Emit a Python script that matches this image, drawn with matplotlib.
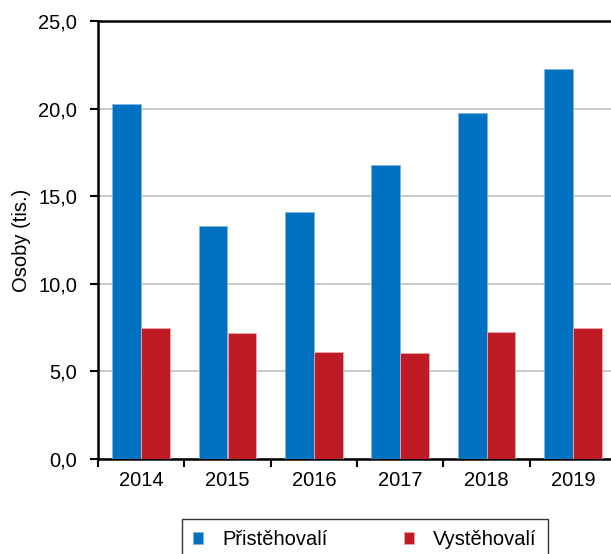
import numpy as np
import matplotlib
matplotlib.use("Agg")
import matplotlib.pyplot as plt
from matplotlib.ticker import FixedLocator

plt.rcParams['font.family'] = ['Liberation Sans', 'DejaVu Sans']

years = ['2014', '2015', '2016', '2017', '2018', '2019']
immigrants = [20.25, 13.3, 14.1, 16.8, 19.75, 22.28]
emigrants = [7.5, 7.2, 6.12, 6.06, 7.26, 7.47]
series_names = ['Přistěhovalí', 'Vystěhovalí']

blue = '#0070C0'
red = '#BE1B24'

fig = plt.figure(figsize=(6.11, 5.54), dpi=100)
# axes run a little past the right edge of the image, as in the original
ax = fig.add_axes([98 / 611, 1 - 459 / 554, 518 / 611, 438 / 554])

x = np.arange(len(years))
w = 0.333
ax.bar(x - w / 2, immigrants, w, color=blue, edgecolor='#7FB5E0', linewidth=0.6,
       label=series_names[0], zorder=3)
ax.bar(x + w / 2, emigrants, w, color=red, edgecolor='#EBA9AD', linewidth=0.6,
       label=series_names[1], zorder=3)

ax.set_xlim(-0.5, len(years) - 0.5)
ax.set_ylim(0, 25)
ticks = np.arange(0, 26, 5)
ax.set_yticks(ticks)
ax.set_yticklabels([f'{v:.1f}'.replace('.', ',') for v in ticks])
ax.set_xticks(x)
ax.set_xticklabels(years)
ax.xaxis.set_minor_locator(FixedLocator(np.arange(-0.5, len(years), 1)))
ax.tick_params(axis='x', which='major', length=0, labelsize=14.5, pad=9)
ax.tick_params(axis='x', which='minor', length=6, width=1.5, direction='out')
ax.tick_params(axis='y', length=6, width=1.5, labelsize=14.5, pad=9)

ax.yaxis.grid(True, color='#C0C0C0', linewidth=1.2, zorder=0)
ax.set_axisbelow(True)

for side in ['left', 'bottom', 'top']:
    ax.spines[side].set_linewidth(1.8)
    ax.spines[side].set_color('black')
ax.spines['right'].set_visible(False)

ax.set_ylabel('Osoby (tis.)', fontsize=14.5, labelpad=5)

leg = fig.legend(loc='upper center', bbox_to_anchor=(365 / 611, 1 - 519 / 554),
                 ncol=2, fontsize=14.5, frameon=True, fancybox=False,
                 edgecolor='black', handlelength=0.5, handleheight=0.5,
                 columnspacing=3.8, borderpad=0.55, handletextpad=0.95,
                 borderaxespad=0)
leg.get_frame().set_linewidth(1.0)

fig.savefig('out.png', dpi=100)
